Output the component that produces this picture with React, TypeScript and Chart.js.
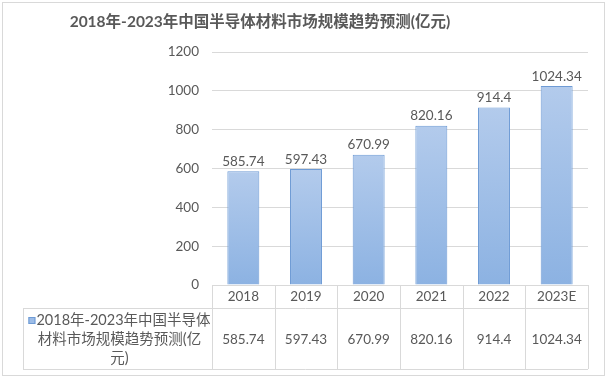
import React, { useEffect, useRef } from "react";
import { Chart, registerables } from "chart.js";

Chart.register(...registerables);

const titleText = "2018年-2023年中国半导体材料市场规模趋势预测(亿元)";
const categories = ["2018", "2019", "2020", "2021", "2022", "2023E"];
const values = [585.74, 597.43, 670.99, 820.16, 914.4, 1024.34];
const valueLabels = ["585.74", "597.43", "670.99", "820.16", "914.4", "1024.34"];
const seriesName = "2018年-2023年中国半导体材料市场规模趋势预测(亿元)";
const seriesNameLines = ["2018年-2023年中国半导体", "材料市场规模趋势预测(亿", "元)"];
const yMin = 0;
const yMax = 1200;
const yStep = 200;

const TEXT = "#595959";
const GRID = "#d9d9d9";
const FONT = "Lato, 'Noto Sans CJK SC', sans-serif";

export default function App() {
  const ref = useRef<HTMLCanvasElement | null>(null);

  useEffect(() => {
    document.body.style.margin = "0";
    const canvas = ref.current;
    if (!canvas) return;

    const tablePlugin = {
      id: "tablePlugin",
      afterDatasetsDraw(chart: any) {
        const c = chart.ctx;
        const meta = chart.getDatasetMeta(0);
        c.save();
        c.fillStyle = TEXT;
        c.font = `13.5px ${FONT}`;
        c.textAlign = "center";
        c.textBaseline = "bottom";
        meta.data.forEach((bar: any, i: number) => {
          c.fillText(valueLabels[i], bar.x, bar.y - 3);
        });
        c.restore();
      },
      afterDraw(chart: any) {
        const c = chart.ctx;
        const xs = chart.scales.x;
        const a = chart.chartArea;
        const n = categories.length;
        const step = (a.right - a.left) / n;
        const tableTop = a.bottom;
        const rowLine = a.bottom + 23;
        const tableBottom = xs.bottom;
        const tableLeft = 23;
        c.save();
        c.strokeStyle = GRID;
        c.lineWidth = 1;
        for (let i = 0; i <= n; i++) {
          const x = Math.round(a.left + i * step) + 0.5;
          c.beginPath();
          c.moveTo(x, tableTop);
          c.lineTo(x, tableBottom);
          c.stroke();
        }
        c.beginPath();
        c.moveTo(tableLeft, rowLine + 0.5);
        c.lineTo(a.right, rowLine + 0.5);
        c.moveTo(tableLeft, tableBottom + 0.5);
        c.lineTo(a.right, tableBottom + 0.5);
        c.moveTo(tableLeft + 0.5, rowLine);
        c.lineTo(tableLeft + 0.5, tableBottom);
        c.stroke();

        c.fillStyle = TEXT;
        c.font = `13.5px ${FONT}`;
        c.textAlign = "center";
        c.textBaseline = "middle";
        const midY = (rowLine + tableBottom) / 2 + 1;
        for (let i = 0; i < n; i++) {
          c.fillText(valueLabels[i], xs.getPixelForTick(i), midY);
        }

        c.font = `14.5px ${FONT}`;
        const cellCenter = (tableLeft + a.left) / 2 + 2;
        const lineYs = [midY - 19, midY, midY + 19];
        const key = 7;
        const w0 = c.measureText(seriesNameLines[0]).width;
        const startX = cellCenter - (w0 + key + 1) / 2;
        c.fillStyle = "#9dbde8";
        c.fillRect(startX, lineYs[0] - key / 2, key, key);
        c.strokeStyle = "#6e9bd5";
        c.strokeRect(startX + 0.5, lineYs[0] - key / 2 + 0.5, key - 1, key - 1);
        c.fillStyle = TEXT;
        c.textAlign = "left";
        c.fillText(seriesNameLines[0], startX + key + 1, lineYs[0]);
        c.textAlign = "center";
        c.fillText(seriesNameLines[1], cellCenter, lineYs[1]);
        c.fillText(seriesNameLines[2], cellCenter, lineYs[2]);

        c.font = `bold 15.5px ${FONT}`;
        c.fillText(titleText, 260, 22);

        c.strokeStyle = GRID;
        c.strokeRect(2.5, 2.5, chart.width - 5, chart.height - 6);
        c.restore();
      },
    };

    const chart = new Chart(canvas, {
      type: "bar",
      data: {
        labels: categories,
        datasets: [
          {
            label: seriesName,
            data: values,
            backgroundColor: (ctx: any) => {
              const chart = ctx.chart;
              const ys = chart.scales && chart.scales.y;
              if (!chart.chartArea || !ys || ctx.raw == null) return "#9dbde8";
              const top = ys.getPixelForValue(ctx.raw);
              const bottom = ys.getPixelForValue(0);
              if (!isFinite(top) || !isFinite(bottom) || top === bottom) return "#9dbde8";
              const g = chart.ctx.createLinearGradient(0, top, 0, bottom);
              g.addColorStop(0, "#b3cbec");
              g.addColorStop(1, "#8cb2e2");
              return g;
            },
            borderColor: "#6e9bd5",
            borderWidth: 1,
            barPercentage: 0.51,
            categoryPercentage: 1,
          },
        ],
      },
      options: {
        responsive: false,
        animation: false,
        layout: { padding: { top: 52, left: 0, right: 19, bottom: 10 } },
        plugins: {
          legend: { display: false },
          title: { display: false },
          tooltip: { enabled: false },
        },
        scales: {
          y: {
            min: yMin,
            max: yMax,
            ticks: {
              stepSize: yStep,
              color: TEXT,
              font: { family: FONT, size: 13.5 },
              padding: 13,
              callback: (v: any) => String(v),
            },
            grid: { color: GRID, drawTicks: false },
            border: { display: false },
            afterFit: (s: any) => {
              s.width = 212;
            },
          },
          x: {
            ticks: {
              color: TEXT,
              font: { family: FONT, size: 13.5 },
              padding: 4,
            },
            grid: { display: false, drawTicks: false },
            border: { display: false },
            afterFit: (s: any) => {
              s.height = 84;
            },
          },
        },
      },
      plugins: [tablePlugin],
    } as any);

    return () => chart.destroy();
  }, []);

  return (
    <div style={{ width: 607, height: 379, background: "#fff" }}>
      <canvas ref={ref} width={607} height={379} style={{ display: "block" }} />
    </div>
  );
}
